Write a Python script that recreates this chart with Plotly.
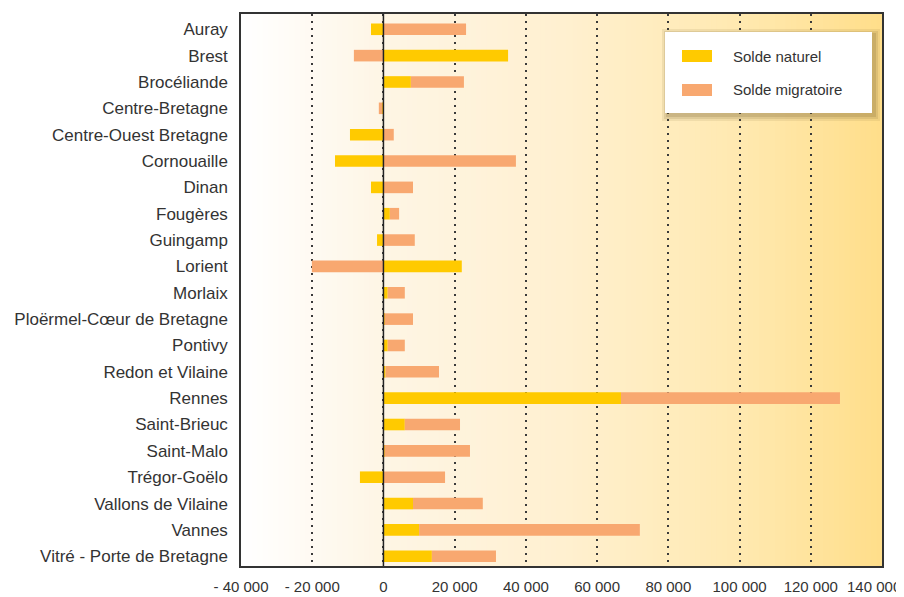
import plotly.graph_objects as go

categories = ["Auray", "Brest", "Brocéliande", "Centre-Bretagne", "Centre-Ouest Bretagne",
              "Cornouaille", "Dinan", "Fougères", "Guingamp", "Lorient", "Morlaix",
              "Ploërmel-Cœur de Bretagne", "Pontivy", "Redon et Vilaine", "Rennes",
              "Saint-Brieuc", "Saint-Malo", "Trégor-Goëlo", "Vallons de Vilaine", "Vannes",
              "Vitré - Porte de Bretagne"]

solde_naturel = [-3500, 35000, 7700, -300, -9400, -13600, -3500, 1800, -1800, 22000, 1200,
                 300, 1200, 600, 66700, 6000, 300, -6600, 8300, 10000, 13600]
solde_migratoire = [23200, -8300, 14900, -1000, 2900, 37200, 8300, 2600, 8800, -20100, 4800,
                    8000, 4800, 15000, 61500, 15500, 24000, 17300, 19600, 62000, 18000]

tick_values = [-40000, -20000, 0, 20000, 40000, 60000, 80000, 100000, 120000, 140000]
tick_labels = ["- 40 000", "- 20 000", "0", "20 000", "40 000", "60 000", "80 000",
               "100 000", "120 000", "140 000"]

series_names = ["Solde naturel", "Solde migratoire"]
colors = ["#FFCA00", "#F8A870"]

FONT = "Liberation Sans, Arial, sans-serif"
TXT = "#333333"

fig = go.Figure()
for name, vals, col in zip(series_names, [solde_naturel, solde_migratoire], colors):
    fig.add_trace(go.Bar(y=categories, x=vals, orientation="h", name=name,
                         marker=dict(color=col, line=dict(width=0)), width=0.44))

# background gradient (decoration)
stops = [(0.0, (255, 255, 255)), (0.23, (254, 245, 228)), (0.5, (255, 240, 208)),
         (0.78, (255, 233, 176)), (1.0, (255, 222, 138))]

def interp(t):
    for (t0, c0), (t1, c1) in zip(stops[:-1], stops[1:]):
        if t0 <= t <= t1:
            f = (t - t0) / (t1 - t0)
            return "rgb(%d,%d,%d)" % tuple(round(a + (b - a) * f) for a, b in zip(c0, c1))
    return "rgb(%d,%d,%d)" % stops[-1][1]

shapes = []
N = 120
for i in range(N):
    shapes.append(dict(type="rect", xref="paper", yref="paper", x0=i / N, x1=(i + 1) / N + 0.002,
                       y0=0, y1=1, fillcolor=interp((i + 0.5) / N), line=dict(width=0),
                       layer="below"))

# zero line above bars
shapes.append(dict(type="line", xref="x", yref="paper", x0=0, x1=0, y0=0, y1=1,
                   line=dict(color="#222222", width=1.5), layer="above"))

# manual legend (pixel positions measured on the screen, converted to paper units)
L, R, T, B = 241, 882, 14, 566
def px(x):
    return (x - L) / (R - L)
def py(y):
    return (B - y) / (B - T)

for d, a in [(7, 0.10), (5, 0.14), (3, 0.18)]:
    shapes.append(dict(type="rect", xref="paper", yref="paper",
                       x0=px(665 - d + 4), x1=px(872 + d + 1), y0=py(113 + d + 1), y1=py(32 - d + 4),
                       fillcolor="rgba(110,90,40,%.2f)" % a, line=dict(width=0), layer="above"))
shapes.append(dict(type="rect", xref="paper", yref="paper", x0=px(665), x1=px(872),
                   y0=py(113), y1=py(32), fillcolor="white", line=dict(width=0), layer="above"))
sw_y = [(50, 62), (84, 96)]
annotations = []
for (y0, y1), col, name in zip(sw_y, colors, series_names):
    shapes.append(dict(type="rect", xref="paper", yref="paper", x0=px(682), x1=px(712),
                       y0=py(y1), y1=py(y0), fillcolor=col, line=dict(width=0), layer="above"))
    annotations.append(dict(xref="paper", yref="paper", x=px(731), y=py((y0 + y1) / 2),
                            text=name, showarrow=False, xanchor="left", yanchor="middle",
                            font=dict(family=FONT, size=15, color=TXT)))

# the last tick label would overflow the page edge: draw it pulled inward, right-aligned
shown_ticktext = tick_labels[:-1] + [""]
annotations.append(dict(xref="paper", yref="paper", x=px(903), y=py(586.5),
                        text=tick_labels[-1], showarrow=False, xanchor="right", yanchor="middle",
                        font=dict(family=FONT, size=15, color=TXT)))

# page body has an 8px margin: shrink the figure so the plot lands on the same screen pixels
fig.update_layout(
    width=896, height=589,
    margin=dict(l=233, r=22, t=6, b=31, autoexpand=False),
    barmode="relative",
    paper_bgcolor="white",
    plot_bgcolor="rgba(0,0,0,0)",
    showlegend=False,
    shapes=shapes,
    annotations=annotations,
    font=dict(family=FONT, color=TXT),
    xaxis=dict(range=[-40000, 140000], tickvals=tick_values, ticktext=shown_ticktext,
               automargin=False,
               showgrid=True, gridcolor="#3a3a3a", griddash="2px,5px", gridwidth=1.5,
               zeroline=False, showline=True, mirror=True, linecolor="#333333", linewidth=1.5,
               ticks="outside", ticklen=6, tickcolor="rgba(0,0,0,0)",
               tickfont=dict(family=FONT, size=15, color=TXT)),
    yaxis=dict(type="category", categoryorder="array", categoryarray=categories,
               automargin=False,
               range=[20.37, -0.58], showgrid=False, zeroline=False,
               showline=True, mirror=True, linecolor="#333333", linewidth=1.5,
               ticks="outside", ticklen=8, tickcolor="rgba(0,0,0,0)",
               tickfont=dict(family=FONT, size=17, color=TXT)),
)

fig.write_html("out.html")
